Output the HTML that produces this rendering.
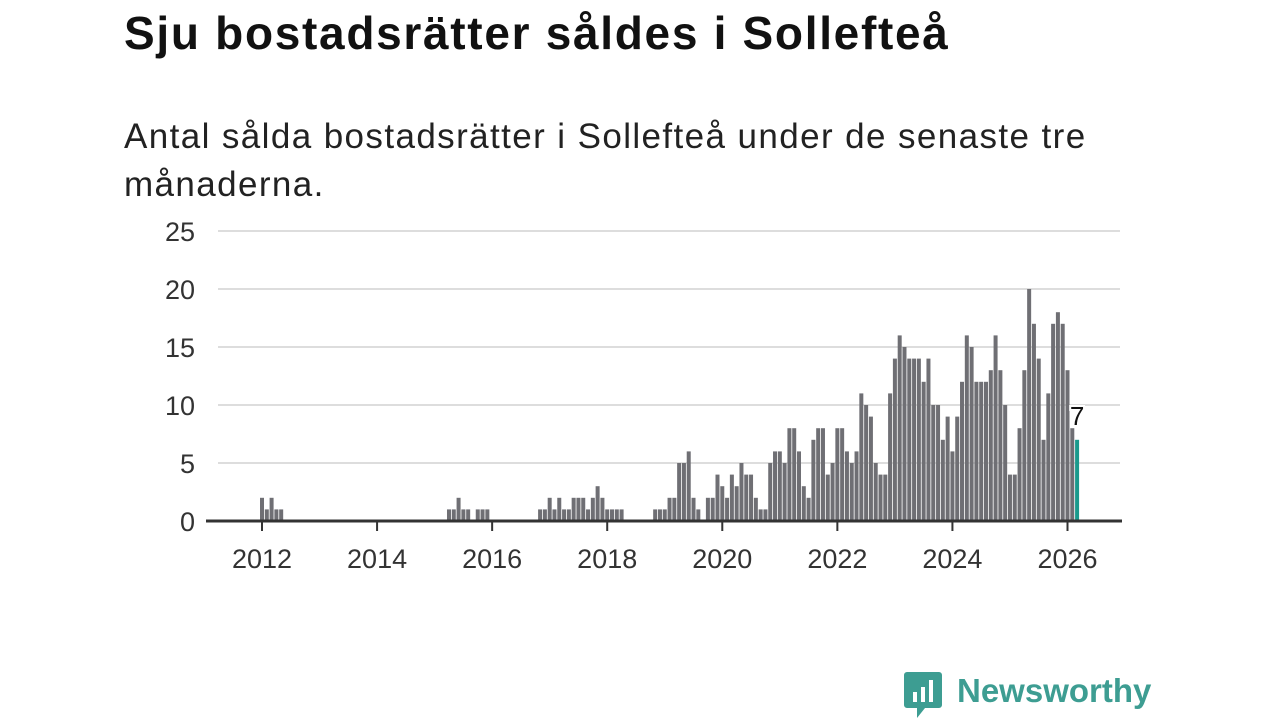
<!DOCTYPE html>
<html><head><meta charset="utf-8"><style>
body{margin:0;width:1280px;height:720px;background:#fff;font-family:"Liberation Sans",sans-serif;overflow:hidden;position:relative}
h1{position:absolute;left:124px;top:6px;margin:0;font-size:46px;font-weight:bold;color:#111;letter-spacing:1.7px;white-space:nowrap}
.sub{position:absolute;left:124px;top:113px;margin:0;font-size:35px;line-height:48px;color:#222;width:1020px;letter-spacing:1.4px}
svg{position:absolute;left:0;top:0}
</style></head><body>
<h1>Sju bostadsrätter såldes i Sollefteå</h1>
<p class="sub">Antal sålda bostadsrätter i Sollefteå under de senaste tre månaderna.</p>
<svg id="chart" width="1280" height="720"></svg>
<script>
const startYear = 2012;
const values = [
2,1,2,1,1,0,0,0,0,0,0,0,
0,0,0,0,0,0,0,0,0,0,0,0,
0,0,0,0,0,0,0,0,0,0,0,0,
0,0,0,1,1,2,1,1,0,1,1,1,
0,0,0,0,0,0,0,0,0,0,1,1,
2,1,2,1,1,2,2,2,1,2,3,2,
1,1,1,1,0,0,0,0,0,0,1,1,
1,2,2,5,5,6,2,1,0,2,2,4,
3,2,4,3,5,4,4,2,1,1,5,6,
6,5,8,8,6,3,2,7,8,8,4,5,
8,8,6,5,6,11,10,9,5,4,4,11,
14,16,15,14,14,14,12,14,10,10,7,9,
6,9,12,16,15,12,12,12,13,16,13,10,
4,4,8,13,20,17,14,7,11,17,18,17,
13,8,7];
const yTicks = [0,5,10,15,20,25];
const xTicks = [2012,2014,2016,2018,2020,2022,2024,2026];
const NS="http://www.w3.org/2000/svg";
const svg=document.getElementById('chart');
const yPx=v=>521-v*11.6;
const xPx=m=>262+m*(805.5/168);
function mk(t,a){const e=document.createElementNS(NS,t);for(const k in a)e.setAttribute(k,a[k]);svg.appendChild(e);return e;}
yTicks.forEach(v=>{
 if(v>0){const g=mk('line',{x1:218,x2:1120,y1:yPx(v),y2:yPx(v),stroke:'#ddd','stroke-width':2});
 
 }
 const t=mk('text',{x:195,y:yPx(v)+10,'text-anchor':'end','font-size':27,fill:'#333','font-family':'Liberation Sans, sans-serif'});
 t.textContent=v;
 
 
});
values.forEach((v,i)=>{
 if(v<=0)return;
 const last=i===values.length-1;
 const r=mk('rect',{x:xPx(i)-2,y:yPx(v),width:4,height:v*11.6,fill:last?'#1a9a8c':'#6f6f74'});
 
 
 if(last){const l=mk('text',{x:xPx(i),y:yPx(v)-15,'text-anchor':'middle','font-size':26,fill:'#111',stroke:'#fff','stroke-width':4,'paint-order':'stroke','font-family':'Liberation Sans, sans-serif'});
 l.textContent=v;
 
 }
});
const ax=mk('line',{x1:206,x2:1122,y1:521,y2:521,stroke:'#333','stroke-width':3});


xTicks.forEach(y=>{
 const m=(y-startYear)*12;
 const tk=mk('line',{x1:xPx(m),x2:xPx(m),y1:521,y2:531,stroke:'#333','stroke-width':2});
 
 
 const t=mk('text',{x:xPx(m),y:568,'text-anchor':'middle','font-size':27,fill:'#333','font-family':'Liberation Sans, sans-serif'});
 t.textContent=y;
 
 
});
</script>
<div style="position:absolute;left:903px;top:670px;display:flex;align-items:center">
<svg width="40" height="50" viewBox="0 0 40 50" style="position:static"><path d="M4 2h32a3 3 0 0 1 3 3v30a3 3 0 0 1-3 3H22l-8 10v-10H4a3 3 0 0 1-3-3V5a3 3 0 0 1 3-3z" fill="#3d9d92"/><rect x="10" y="22" width="4" height="10" fill="#fff"/><rect x="18" y="17" width="4" height="15" fill="#fff"/><rect x="26" y="10" width="4" height="22" fill="#fff"/></svg>
<span style="margin-left:14px;font-size:33px;font-weight:bold;color:#3d9d92;margin-top:-8px">Newsworthy</span>
</div>
</body></html>
